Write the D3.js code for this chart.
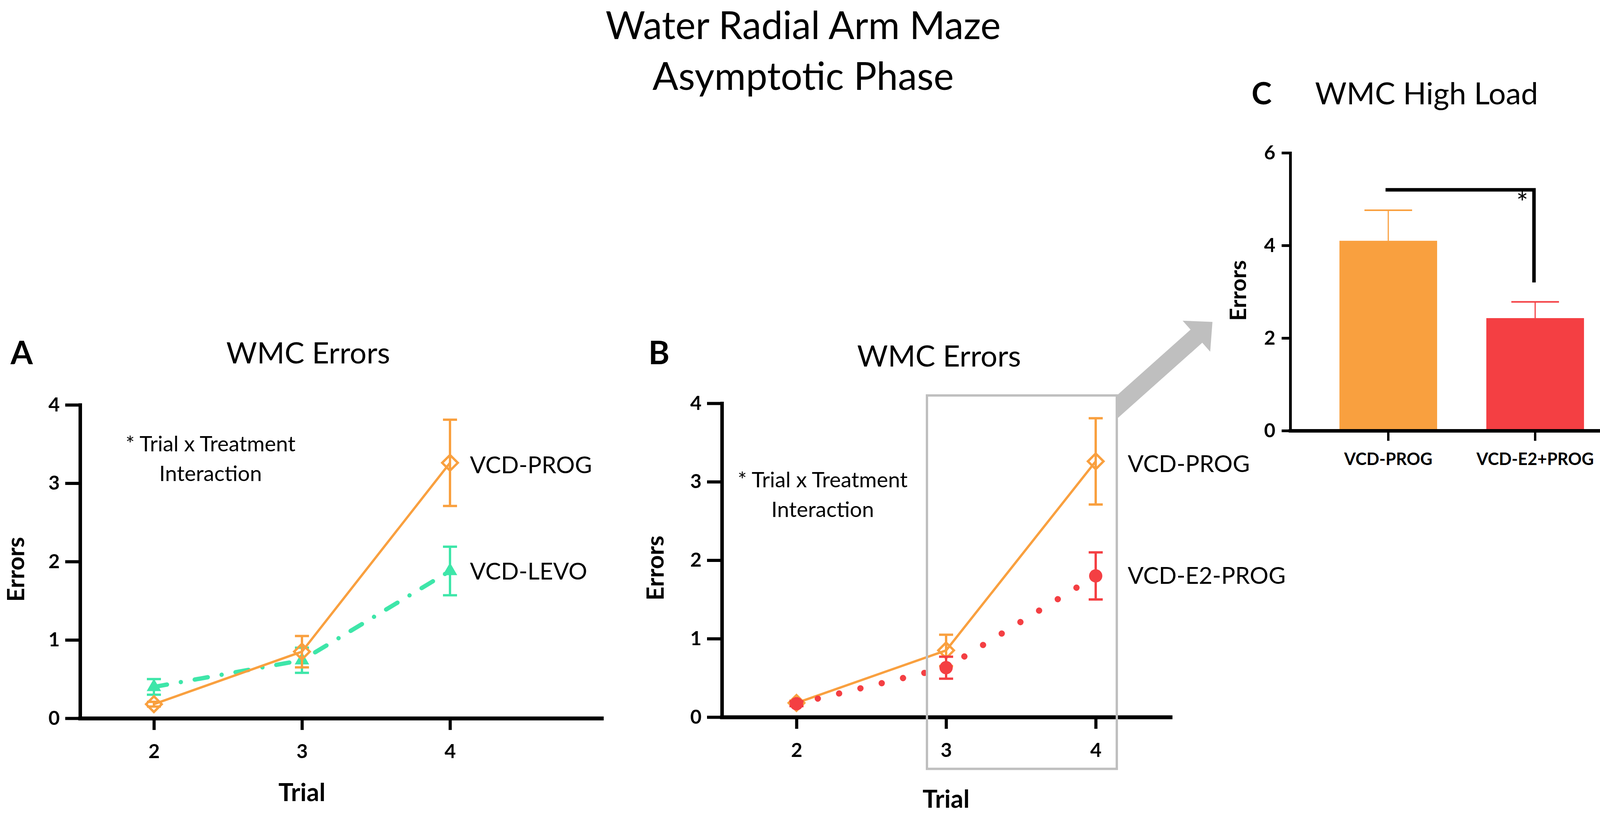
<!DOCTYPE html>
<html>
<head>
<meta charset="utf-8">
<script src="https://cdn.jsdelivr.net/npm/d3@7"></script>
<style>
  html, body { margin: 0; padding: 0; background: #fff; }
  svg { display: block; background: #fff; }
  text { font-family: Lato, "Open Sans", sans-serif; fill: #000; }
</style>
</head>
<body>
<svg id="fig" width="4208" height="2083"></svg>
<script>
// values (mean ± SEM)
const trials = [2, 3, 4];
const yTicksLine = [0, 1, 2, 3, 4];

const progMean   = [0.18, 0.85, 3.26];
const progSem    = [0.03, 0.20, 0.55];
const levoMean   = [0.40, 0.74, 1.88];
const levoSem    = [0.10, 0.16, 0.31];
const e2progMean = [0.17, 0.63, 1.80];
const e2progSem  = [0.03, 0.14, 0.30];

const barGroups = ['VCD-PROG', 'VCD-E2+PROG'];
const barMean   = [4.10, 2.43];
const barSem    = [0.66, 0.35];
const yTicksBar = [0, 2, 4, 6];

const ORANGE = '#F9A03F', GREEN = '#3EE6A9', RED = '#F43F43', GRAY = '#BFBFBF';

const svg = d3.select('#fig');

function styleAxis(a, domainW, tickW, fontPx) {
  a.attr('font-family', null).attr('font-size', null);
  a.select('.domain').attr('stroke', '#000').attr('stroke-width', domainW).attr('stroke-linecap', 'square');
  a.selectAll('.tick line').attr('stroke', '#000').attr('stroke-width', tickW);
  a.selectAll('.tick text').attr('fill', '#000')
    .style('font-family', 'Lato, sans-serif').style('font-weight', 700).style('font-size', fontPx + 'px');
}

function addText(g, x, y, str, opt) {
  const t = g.append('text').attr('x', x).attr('y', y).text(str)
    .style('font-size', opt.size + 'px')
    .style('font-weight', opt.bold ? 700 : 400)
    .attr('text-anchor', opt.anchor || 'start');
  if (opt.rotate) t.attr('transform', `rotate(-90,${x},${y})`);
  return t;
}

// ---------- line panels (A, B) ----------
function linePanel(cfg) {
  const g = svg.append('g');
  // trial 2 and 4 positions, then stretch the range out to the axis ends
  const x = d3.scaleLinear().domain([2, 4]).range([cfg.x2, cfg.x4]);
  x.domain([x.invert(cfg.left), x.invert(cfg.axisEnd)]).range([cfg.left, cfg.axisEnd]);
  const y = d3.scaleLinear().domain([0, 4]).range([cfg.bottom, cfg.top]);

  const ya = g.append('g').attr('transform', `translate(${cfg.left},0)`)
    .call(d3.axisLeft(y).tickValues(yTicksLine).tickSize(38).tickPadding(14).tickSizeOuter(0).tickFormat(d3.format('d')));
  const xa = g.append('g').attr('transform', `translate(0,${cfg.bottom})`)
    .call(d3.axisBottom(x).tickValues(trials).tickSize(30).tickPadding(36).tickSizeOuter(0).tickFormat(d3.format('d')));
  styleAxis(ya, 9, 8, 50);
  styleAxis(xa, 10, 8, 50);

  const line = d3.line().x((d, i) => x(trials[i])).y(d => y(d));

  cfg.series.forEach(s => {
    g.append('path').datum(s.mean).attr('d', line)
      .attr('fill', 'none').attr('stroke', s.color).attr('stroke-width', s.width)
      .attr('stroke-dasharray', s.dash || null).attr('stroke-linecap', s.dash ? 'round' : 'butt');

    const eb = g.append('g').attr('stroke', s.color).attr('stroke-width', 6);
    s.mean.forEach((m, i) => {
      const cx = x(trials[i]), lo = y(m - s.sem[i]), hi = y(m + s.sem[i]);
      eb.append('line').attr('x1', cx).attr('x2', cx).attr('y1', lo).attr('y2', hi);
      eb.append('line').attr('x1', cx - 18).attr('x2', cx + 18).attr('y1', lo).attr('y2', lo);
      eb.append('line').attr('x1', cx - 18).attr('x2', cx + 18).attr('y1', hi).attr('y2', hi);
    });

    const sym = d3.symbol().type(s.symbol).size(s.size);
    g.selectAll(null).data(s.mean).join('path')
      .attr('transform', (d, i) => `translate(${x(trials[i])},${y(d)})`)
      .attr('d', sym)
      .attr('fill', s.hollow ? 'none' : s.color)
      .attr('stroke', s.hollow ? s.color : 'none')
      .attr('stroke-width', 6);

    addText(g, x(4) + cfg.labelDx, y(s.mean[2]) + s.labelDy, s.label, { size: 60 });
  });

  addText(g, cfg.letterX, 932, cfg.letter, { size: 82, bold: true });
  addText(g, cfg.titleX, cfg.titleY, 'WMC Errors', { size: 76, anchor: 'middle' });
  addText(g, cfg.errX, (y(0) + y(4)) / 2 + 20, 'Errors', { size: 62, bold: true, anchor: 'middle', rotate: true });
  addText(g, x(3), cfg.trialY, 'Trial', { size: 64, bold: true, anchor: 'middle' });
  addText(g, cfg.noteX, cfg.noteY, '* Trial x Treatment', { size: 55, anchor: 'middle' });
  addText(g, cfg.noteX, cfg.noteY + 76, 'Interaction', { size: 55, anchor: 'middle' });
  return { x, y, g };
}

const progSeries = { mean: progMean, sem: progSem, color: ORANGE, width: 6, symbol: d3.symbolDiamond2, size: 1020, hollow: true, label: 'VCD-PROG', labelDy: 27 };

const A = linePanel({
  left: 205, x2: 394, x4: 1152, axisEnd: 1540, bottom: 1838, top: 1036,
  letter: 'A', letterX: 27, titleX: 789, titleY: 930, errX: 62, trialY: 2050,
  noteX: 539, noteY: 1155, labelDx: 51,
  series: [
    { mean: levoMean, sem: levoSem, color: GREEN, width: 11, dash: '34 36 0.1 36', symbol: d3.symbolTriangle, size: 593, label: 'VCD-LEVO', labelDy: 22 },
    progSeries
  ]
});

const B = linePanel({
  left: 1848, x2: 2039, x4: 2805, axisEnd: 2996, bottom: 1835, top: 1032,
  letter: 'B', letterX: 1660, titleX: 2404, titleY: 938, errX: 1699, trialY: 2067,
  noteX: 2106, noteY: 1247, labelDx: 82,
  series: [
    progSeries,
    { mean: e2progMean, sem: e2progSem, color: RED, width: 16, dash: '0.1 56', symbol: d3.symbolCircle, size: 908, label: 'VCD-E2-PROG', labelDy: 20 }
  ]
});

// zoom box around trials 3-4 in B, and the arrow to C
const box = { x0: B.x(3) - 49, x1: B.x(4) + 54, y0: B.y(4.1), y1: B.y(-0.66) };
{
  const th = -41.7 * Math.PI / 180;
  const u = [Math.cos(th), Math.sin(th)], n = [-u[1], u[0]];
  const c = [box.x1, box.y0 + 30];
  const at = (l, w) => [c[0] + l * u[0] + w * n[0], c[1] + l * u[1] + w * n[1]];
  const L = 273, w = 22.5, hw = 53, hl = 55;
  const pts = [[box.x1, box.y0], at(L, -w), at(L, -hw), at(L + hl, 0), at(L, hw), at(L, w), [box.x1, box.y0 + 60]];
  svg.append('path').attr('d', d3.line()(pts) + 'Z').attr('fill', GRAY);
}
svg.append('rect')
  .attr('x', box.x0).attr('y', box.y0)
  .attr('width', box.x1 - box.x0).attr('height', box.y1 - box.y0)
  .attr('fill', 'none').attr('stroke', GRAY).attr('stroke-width', 6);

// ---------- bar panel (C) ----------
{
  const g = svg.append('g');
  const x = d3.scaleBand().domain(barGroups).range([3303, 4181]).paddingInner(0.335).paddingOuter(0.335);
  const y = d3.scaleLinear().domain([0, 6]).range([1102, 391]);
  const colors = [ORANGE, RED];

  g.selectAll('rect.bar').data(barMean).join('rect')
    .attr('x', (d, i) => x(barGroups[i])).attr('width', x.bandwidth())
    .attr('y', d => y(d)).attr('height', d => y(0) - y(d))
    .attr('fill', (d, i) => colors[i]);

  barMean.forEach((m, i) => {
    const cx = x(barGroups[i]) + x.bandwidth() / 2;
    const top = y(m + barSem[i]);
    g.append('line').attr('x1', cx).attr('x2', cx).attr('y1', y(m)).attr('y2', top)
      .attr('stroke', colors[i]).attr('stroke-width', 3);
    g.append('line').attr('x1', cx - 61).attr('x2', cx + 61).attr('y1', top).attr('y2', top)
      .attr('stroke', colors[i]).attr('stroke-width', 4);
  });

  const ya = g.append('g').attr('transform', 'translate(3303,0)')
    .call(d3.axisLeft(y).tickValues(yTicksBar).tickSize(22).tickPadding(16).tickSizeOuter(0).tickFormat(d3.format('d')));
  const xa = g.append('g').attr('transform', `translate(0,${y(0)})`)
    .call(d3.axisBottom(x).tickSize(26).tickPadding(31).tickSizeOuter(0));
  styleAxis(ya, 7, 7, 50);
  styleAxis(xa, 9, 6, 43);

  // significance bracket
  const c0 = x(barGroups[0]) + x.bandwidth() / 2 - 7;
  const c1 = x(barGroups[1]) + x.bandwidth() / 2 - 3;
  g.append('path').attr('d', d3.line()([[c0, y(5.2)], [c1, y(5.2)], [c1, y(3.2)]]))
    .attr('fill', 'none').attr('stroke', '#000').attr('stroke-width', 9);
  addText(g, c1 - 30, y(5.2) + 58, '*', { size: 72, anchor: 'middle' });

  addText(g, 3204, 267, 'C', { size: 78, bold: true });
  addText(g, 3652, 267, 'WMC High Load', { size: 78, anchor: 'middle' });
  addText(g, 3190, (y(0) + y(6)) / 2 - 3, 'Errors', { size: 58, bold: true, anchor: 'middle', rotate: true });
}

// ---------- figure title ----------
addText(svg, 2056, 100, 'Water Radial Arm Maze', { size: 98, anchor: 'middle' });
addText(svg, 2056, 230, 'Asymptotic Phase', { size: 98, anchor: 'middle' });
</script>
</body>
</html>
